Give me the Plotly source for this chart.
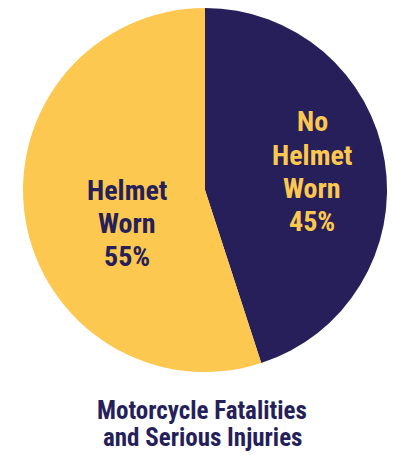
import plotly.graph_objects as go

labels = ["No Helmet Worn", "Helmet Worn"]
values = [45, 55]
label_lines = [["No", "Helmet", "Worn"], ["Helmet", "Worn"]]
colors = ["#261f59", "#fdc84f"]
text_colors = ["#fdc84f", "#261f59"]
title_lines = ["Motorcycle Fatalities", "and Serious Injuries"]

FONT = "Liberation Sans Narrow, Arial Narrow, Roboto Condensed, Liberation Sans, Arial, sans-serif"

fig = go.Figure(go.Pie(
    labels=labels,
    values=values,
    textinfo="none",
    marker=dict(colors=colors, line=dict(width=0)),
    sort=False,
    direction="clockwise",
    rotation=0,
    hole=0,
    domain=dict(x=[22/393, 388/393], y=[1-372/455, 1-8/455]),
    showlegend=False,
    hoverinfo="label+percent",
))

# slice labels (text only; placed inside their slices), one annotation per line
label_anchor = [(312, 122), (127, 190)]  # centre x, first-line y (px)
LINE_H = 33
total = sum(values)
for lines, v, c, (cx, y0) in zip(label_lines, values, text_colors, label_anchor):
    all_lines = lines + [f"{round(100*v/total)}%"]
    for j, ln in enumerate(all_lines):
        fig.add_annotation(
            text=f"<b>{ln}</b>", xref="paper", yref="paper",
            x=cx/393, y=1-(y0+LINE_H*j)/455,
            xanchor="center", yanchor="middle", showarrow=False,
            font=dict(family=FONT, size=28, color=c),
        )

for i, line in enumerate(title_lines):
    fig.add_annotation(
        text=f"<b>{line}</b>",
        xref="paper", yref="paper", x=202/393, y=1-(410+27*i)/455,
        xanchor="center", yanchor="middle",
        showarrow=False,
        font=dict(family=FONT, size=25, color="#261f59"),
    )

fig.update_layout(
    width=393, height=455,
    margin=dict(l=0, r=0, t=0, b=0),
    paper_bgcolor="white",
    plot_bgcolor="white",
)

fig.write_html(
    "out.html",
    config={"displayModeBar": False},
    post_script="document.body.style.margin='0';document.body.style.overflow='hidden';",
)
